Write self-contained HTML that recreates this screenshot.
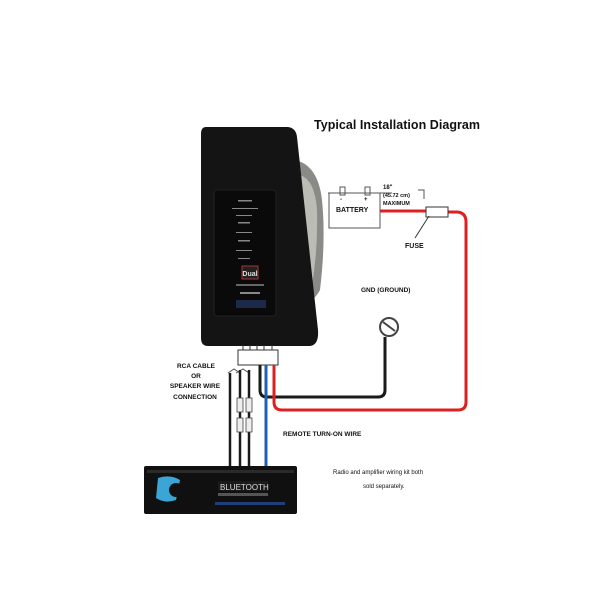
<!DOCTYPE html>
<html><head><style>
body{margin:0;background:#fff}
svg{display:block}
text{font-family:"Liberation Sans",sans-serif;font-weight:bold;fill:#111}
</style></head><body>
<svg width="612" height="612" viewBox="0 0 612 612" xmlns="http://www.w3.org/2000/svg">
<rect width="612" height="612" fill="#fff"/>
<text x="314" y="129" font-size="12.5" textLength="166">Typical Installation Diagram</text>
<path d="M295 160 Q318 165 322 200 Q326 240 320 290 Q312 305 300 300 Z" fill="#8a8a86"/>
<path d="M300 175 Q315 180 317 210 Q318 250 312 285 L300 290 Z" fill="#bcbcb6"/>
<path d="M206 127 L288 127 Q296 128 297 137 L318 330 Q319 345 310 346 L208 346 Q201 346 201 338 L201 134 Q201 127 206 127 Z" fill="#141414"/>
<rect x="214" y="190" width="62" height="126" rx="3" fill="#0a0a0a" stroke="#222" stroke-width="1"/>
<g fill="#888"><rect x="238" y="200" width="14" height="1.5"/><rect x="232" y="208" width="26" height="1"/><rect x="236" y="215" width="16" height="1"/><rect x="238" y="222" width="12" height="1.5"/><rect x="236" y="232" width="16" height="1"/><rect x="238" y="240" width="12" height="1.5"/><rect x="236" y="250" width="16" height="1"/><rect x="238" y="258" width="12" height="1"/></g>
<rect x="242" y="266" width="16" height="13" fill="#222" stroke="#a33" stroke-width="1"/>
<text x="250" y="276" font-size="7" text-anchor="middle" style="fill:#ddd">Dual</text>
<rect x="236" y="284" width="28" height="2" fill="#666"/>
<rect x="240" y="292" width="20" height="2" fill="#888"/>
<rect x="236" y="300" width="30" height="8" fill="#1c2a4a"/>
<rect x="238" y="350" width="40" height="15" fill="#fff" stroke="#333"/>
<path d="M243 350v-5M250 350v-5M257 350v-5M264 350v-5M272 350v-5" stroke="#333"/>
<path d="M260 365 V390 Q260 397 267 397 H378 Q385 397 385 390 V337" fill="none" stroke="#1a1a1a" stroke-width="3"/>
<path d="M274 365 V402 Q274 410 282 410 H458 Q466 410 466 402 V222 Q466 212 456 212 H448" fill="none" stroke="#e02020" stroke-width="3"/>
<path d="M380 211 H426" stroke="#e02020" stroke-width="3"/>
<path d="M266 365 V466" stroke="#1f5fb4" stroke-width="3"/>
<circle cx="389" cy="327" r="9" fill="#fff" stroke="#444" stroke-width="2"/>
<path d="M383 322 L395 331" stroke="#444" stroke-width="2"/>
<rect x="426" y="207" width="22" height="10" fill="#fff" stroke="#333"/>
<path d="M429 216 L415 238" stroke="#333"/>
<text x="405" y="248" font-size="7">FUSE</text>
<rect x="329" y="193" width="51" height="35" fill="#fff" stroke="#555"/>
<rect x="340" y="187" width="5" height="8" fill="#fff" stroke="#555"/>
<rect x="365" y="187" width="5" height="8" fill="#fff" stroke="#555"/>
<path d="M328 193 H392 M418 190 H424 V199" stroke="#555" fill="none"/>
<text x="340" y="201" font-size="6">-</text><text x="364" y="201" font-size="6">+</text>
<text x="336" y="212" font-size="7">BATTERY</text>
<text x="383" y="189" font-size="6">18"</text>
<text x="383" y="197" font-size="5.5">(45.72 cm)</text>
<text x="383" y="205" font-size="5.5">MAXIMUM</text>
<text x="361" y="292" font-size="6.5">GND (GROUND)</text>
<path d="M228 373 L234 369 L240 373 M236 373 L243 369 L249 373" fill="none" stroke="#555"/>
<path d="M230 373 V466 M240 370 V466 M249 370 V466" stroke="#1a1a1a" stroke-width="2.5"/>
<g fill="#eee" stroke="#444" stroke-width="0.8">
<rect x="237" y="398" width="6" height="14"/><rect x="246" y="398" width="6" height="14"/>
<rect x="237" y="418" width="6" height="14"/><rect x="246" y="418" width="6" height="14"/></g>
<g font-size="6.5" text-anchor="middle">
<text x="196" y="368">RCA CABLE</text><text x="196" y="378">OR</text>
<text x="195" y="388">SPEAKER WIRE</text><text x="195" y="399">CONNECTION</text></g>
<text x="283" y="436" font-size="6.5">REMOTE TURN-ON WIRE</text>
<text x="333" y="474" font-size="6" style="font-weight:normal">Radio and amplifier wiring kit both</text>
<text x="363" y="488" font-size="6" style="font-weight:normal">sold separately.</text>
<rect x="144" y="466" width="153" height="48" rx="2" fill="#101010"/>
<rect x="147" y="470" width="147" height="3" fill="#2a2a2a"/>
<path d="M158 478 Q170 474 180 480 L176 500 Q165 504 156 498 Z" fill="#3ba6d6"/>
<circle cx="176" cy="490" r="7" fill="#111"/>
<rect x="218" y="481" width="50" height="10" fill="#1a1a1a"/>
<text x="220" y="490" font-size="8" style="font-weight:normal;fill:#ddd">BLUETOOTH</text>
<rect x="218" y="493" width="50" height="3" fill="#555"/>
<rect x="215" y="502" width="70" height="3" fill="#1f3f7a"/>
</svg>
</body></html>
